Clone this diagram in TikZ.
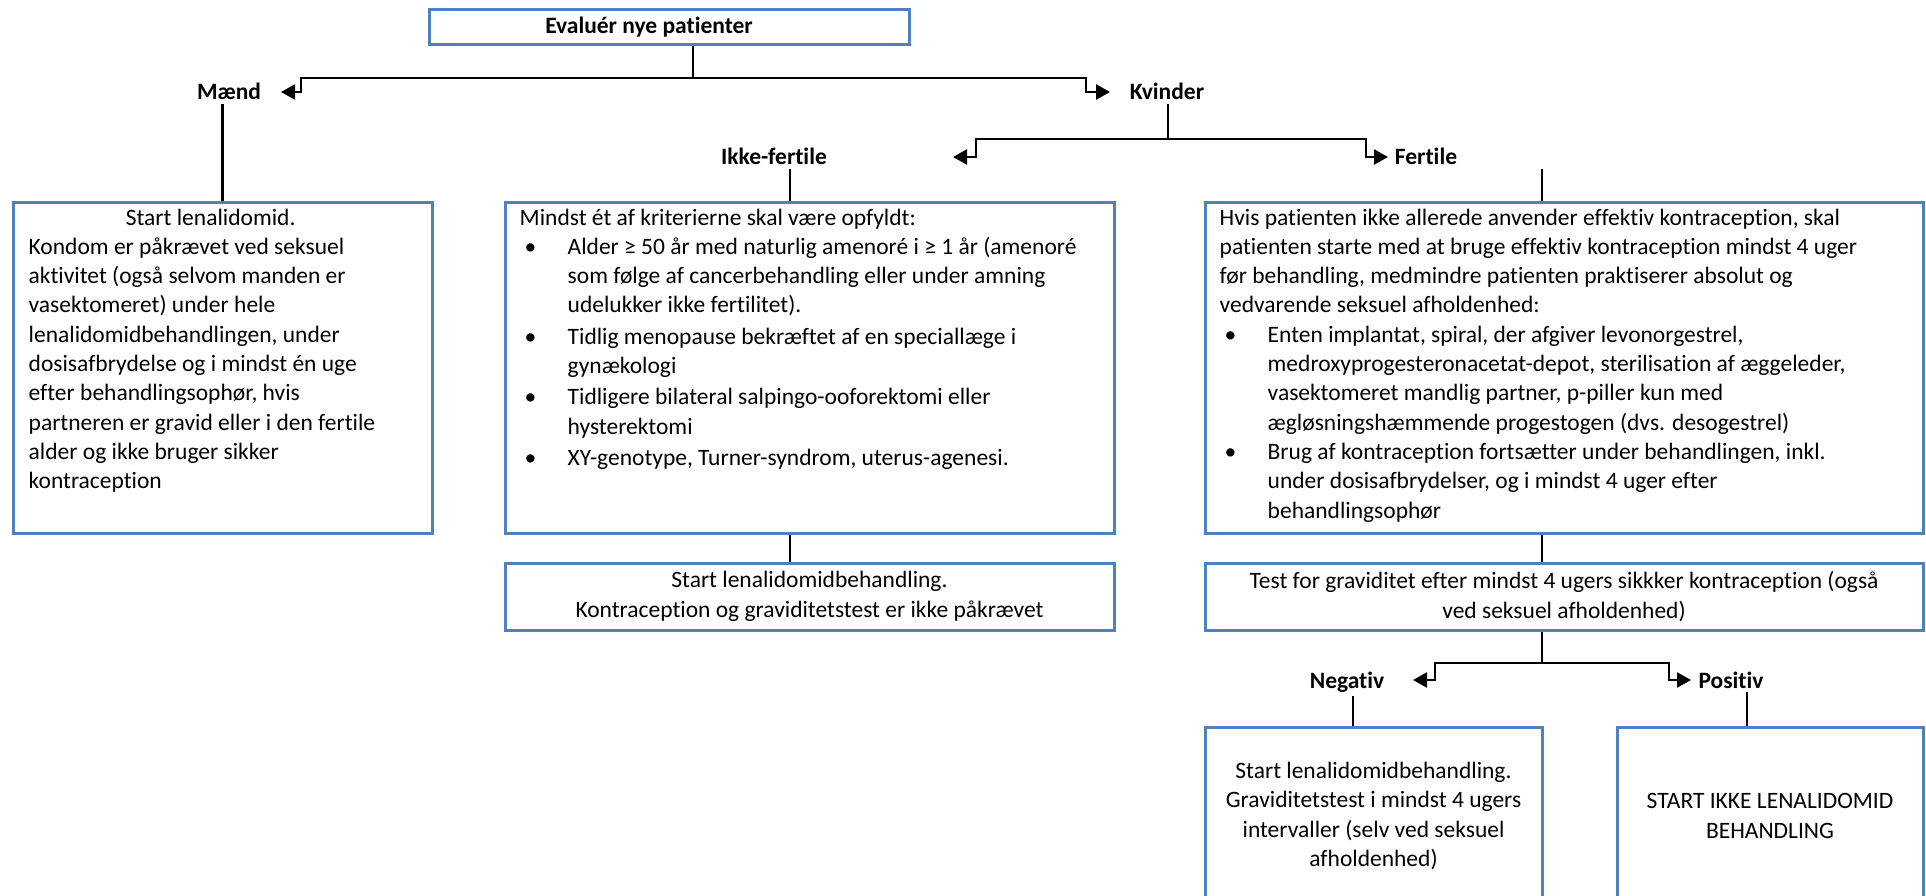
\documentclass[tikz,border=0pt]{standalone}
\usepackage{fontspec}
\setmainfont{Carlito}[Ligatures=NoCommon]
\usetikzlibrary{arrows.meta}
\definecolor{boxblue}{RGB}{79,129,189}
\newcommand\chartfont{\fontsize{23.5}{29.3}\selectfont}
\newcommand\bulitem{\hspace*{5pt}\makebox[43pt][l]{\textbullet}}
\newcommand\bulcont{\hspace*{48pt}}
\tikzset{
  box/.style={draw=boxblue, line width=3pt, inner sep=0pt, align=center},
  txt/.style={inner sep=0pt, align=left, anchor=north west},
  lbl/.style={font=\chartfont\bfseries, inner sep=4pt, anchor=base},
  conn/.style={line width=2.5pt},
  arr/.style={conn, -{Triangle[length=14pt,width=15pt]}}
}
\begin{document}
\begin{tikzpicture}[x=1pt, y=-1pt, font=\chartfont]
\useasboundingbox (0,0) rectangle (1926,896);

% boxes
\node[box, minimum width=480pt, minimum height=35pt, font=\chartfont\bfseries] (top) at (669,27.5) {Evaluér nye patienter\hspace*{40pt}};
\node[box, minimum width=419pt, minimum height=331pt] (maendbox) at (222.5,367.5) {};
\node[box, minimum width=609pt, minimum height=331pt] (ikkebox) at (809.5,367.5) {};
\node[box, minimum width=718pt, minimum height=331pt] (fertbox) at (1564,367.5) {};
\node[box, minimum width=609pt, minimum height=67pt] (ikkestart) at (809.5,596.5)
  {Start lenalidomidbehandling.\\Kontraception og graviditetstest er ikke påkrævet};
\node[box, minimum width=718pt, minimum height=67pt] (testbox) at (1564,596.5)
  {Test for graviditet efter mindst 4 ugers sikkker kontraception (også\\ved seksuel afholdenhed)};
\node[box, minimum width=337pt, minimum height=178pt] (negbox) at (1373.5,816)
  {Start lenalidomidbehandling.\\Graviditetstest i mindst 4 ugers\\intervaller (selv ved seksuel\\afholdenhed)};
\node[box, minimum width=306pt, minimum height=178pt] (posbox) at (1770,816)
  {START IKKE LENALIDOMID\\BEHANDLING};

% box texts
\node[txt] (maendtxt) at ([xshift=17pt,yshift=-8pt]maendbox.north west)
  {\makebox[364pt]{Start lenalidomid.}\\
   Kondom er påkrævet ved seksuel\\
   aktivitet (også selvom manden er\\
   vasektomeret) under hele\\
   lenalidomidbehandlingen, under\\
   dosisafbrydelse og i mindst én uge\\
   efter behandlingsophør, hvis\\
   partneren er gravid eller i den fertile\\
   alder og ikke bruger sikker\\
   kontraception};
\node[txt] (ikketxt) at ([xshift=16pt,yshift=-8pt]ikkebox.north west)
  {Mindst ét af kriterierne skal være opfyldt:\\
   \bulitem Alder ≥ 50 år med naturlig amenoré i ≥ 1 år (amenoré\\
   \bulcont som følge af cancerbehandling eller under amning\\
   \bulcont udelukker ikke fertilitet).\\[2pt]
   \bulitem Tidlig menopause bekræftet af en speciallæge i\\
   \bulcont gynækologi\\[2pt]
   \bulitem Tidligere bilateral salpingo-ooforektomi eller\\
   \bulcont hysterektomi\\[2pt]
   \bulitem XY-genotype, Turner-syndrom, uterus-agenesi.};
\node[txt] (ferttxt) at ([xshift=16pt,yshift=-8pt]fertbox.north west)
  {Hvis patienten ikke allerede anvender effektiv kontraception, skal\\
   patienten starte med at bruge effektiv kontraception mindst 4 uger\\
   før behandling, medmindre patienten praktiserer absolut og\\
   vedvarende seksuel afholdenhed:\\
   \bulitem Enten implantat, spiral, der afgiver levonorgestrel,\\
   \bulcont medroxyprogesteronacetat-depot, sterilisation af æggeleder,\\
   \bulcont vasektomeret mandlig partner, p-piller kun med\\
   \bulcont ægløsningshæmmende progestogen (dvs. desogestrel)\\
   \bulitem Brug af kontraception fortsætter under behandlingen, inkl.\\
   \bulcont under dosisafbrydelser, og i mindst 4 uger efter\\
   \bulcont behandlingsophør};

% labels
\foreach \n/\x/\y/\t in {maend/229/100/Mænd, kvinder/1167/100/Kvinder,
    ikke/774/165/Ikke-fertile, fertile/1426/165/Fertile,
    negativ/1347/688/Negativ, positiv/1731/688/Positiv}
  \node[lbl] (\n) at (\x,\y) {\t};

% split points, arrow tips and line columns
\coordinate (s1) at (693,78);
\coordinate (s2) at (1168,139);
\coordinate (s3) at (1542,663);
\coordinate (maendtip) at (281,92);
\coordinate (kvindertip) at (1110,92);
\coordinate (ikketip) at (953,157);
\coordinate (fertiletip) at (1388,157);
\coordinate (negtip) at (1413,680);
\coordinate (postip) at (1691,680);
\coordinate (icol) at (790,0);
\coordinate (fcol) at (1542,0);
\coordinate (ncol) at (1353,0);
\coordinate (pcol) at (1747,0);

% connectors
\draw[conn] (s1 |- top.south) -- (s1);
\draw[arr] (s1) -| ([xshift=20pt]maendtip) -- (maendtip);
\draw[arr] (s1) -| ([xshift=-24pt]kvindertip) -- (kvindertip);
\draw[conn] (maend.south -| maendbox.north) -- (maendbox.north);
\draw[conn] (s2 |- kvinder.south) -- (s2);
\draw[arr] (s2) -| ([xshift=23pt]ikketip) -- (ikketip);
\draw[arr] (s2) -| ([xshift=-22pt]fertiletip) -- (fertiletip);
\draw[conn] (icol |- ikke.south) -- (icol |- ikkebox.north);
\draw[conn] (icol |- ikkebox.south) -- (icol |- ikkestart.north);
\draw[conn] (fcol |- fertile.south) -- (fcol |- fertbox.north);
\draw[conn] (fcol |- fertbox.south) -- (fcol |- testbox.north);
\draw[conn] (fcol |- testbox.south) -- (s3);
\draw[arr] (s3) -| ([xshift=22pt]negtip) -- (negtip);
\draw[arr] (s3) -| ([xshift=-22pt]postip) -- (postip);
\draw[conn] (ncol |- negativ.south) -- (ncol |- negbox.north);
\draw[conn] (pcol |- positiv.south) -- (pcol |- posbox.north);
\end{tikzpicture}
\end{document}
